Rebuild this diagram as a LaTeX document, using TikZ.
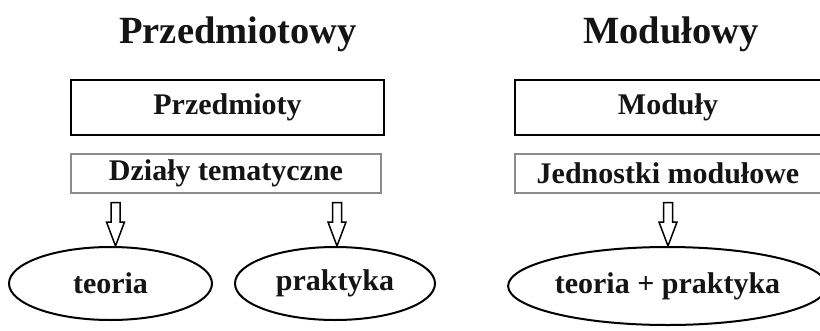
\documentclass[tikz,border=0pt]{standalone}
\usepackage{fontspec}
\setmainfont{Liberation Serif}
\usetikzlibrary{positioning,shapes.geometric,calc}
\definecolor{FrameGray}{HTML}{8C8C8C}
\definecolor{TextInk}{HTML}{141414}
% hollow down arrow: #1 tail, #2 tip
\newcommand{\hollowarr}[2]{%
  \draw[arrowline] ($(#1)+(-4.5,0)$) -- ($(#2)+(-4.5,-24)$) -- ($(#2)+(-9,-24)$) -- (#2)
    -- ($(#2)+(9,-24)$) -- ($(#2)+(4.5,-24)$) -- ($(#1)+(4.5,0)$) -- cycle;}

\begin{document}
\begin{tikzpicture}[x=1pt,y=-1pt,
    every node/.style={font=\bfseries\fontsize{30}{34}\selectfont, text=TextInk},
    title/.style={font=\bfseries\fontsize{38.5}{42}\selectfont},
    mainbox/.style={draw, line width=2.5pt, minimum height=55pt, inner sep=0pt},
    subbox/.style={draw=FrameGray, line width=1.4pt, minimum height=39pt, inner sep=0pt},
    oval/.style={draw, ellipse, line width=2pt, inner sep=0pt},
    arrowline/.style={draw, line width=1.5pt, fill=white, line join=miter}]
  \useasboundingbox (0,0) rectangle (820,330);

  % left column
  \node[title, anchor=base] (tPrzed) at (238,43) {Przedmiotowy};
  \node[mainbox, minimum width=313pt] (przed) at (227.5,107.5) {Przedmioty};
  \node[subbox, minimum width=310pt] (dzialy) at (226,173.5) {Działy tematyczne};
  \node[oval, minimum width=203pt, minimum height=73pt] (teoria) at (110.5,283.5) {teoria};
  \node[oval, minimum width=200pt, minimum height=73pt] (prakt) at (335,283.5) {praktyka};

  \coordinate (aTeoria) at ($(dzialy.south)+(-110.5,9)$);
  \coordinate (bTeoria) at (aTeoria |- teoria.north);
  \coordinate (aPrakt) at ($(dzialy.south)+(111,9)$);
  \coordinate (bPrakt) at (aPrakt |- prakt.north);
  \hollowarr{aTeoria}{bTeoria}
  \hollowarr{aPrakt}{bPrakt}

  % right column
  \node[title, anchor=base] (tModul) at (671,43) {Modułowy};
  \node[mainbox, minimum width=306pt] (modul) at (668,107.5) {Moduły};
  \node[subbox, minimum width=306pt] (jedn) at (668,173.5) {Jednostki modułowe};
  \node[oval, minimum width=291pt, minimum height=78pt] (teopr) at (667.5,286) {teoria + praktyka};

  \coordinate (aTeopr) at ($(jedn.south)+(0,9)$);
  \coordinate (bTeopr) at (aTeopr |- teopr.north);
  \hollowarr{aTeopr}{bTeopr}
\end{tikzpicture}
\end{document}
